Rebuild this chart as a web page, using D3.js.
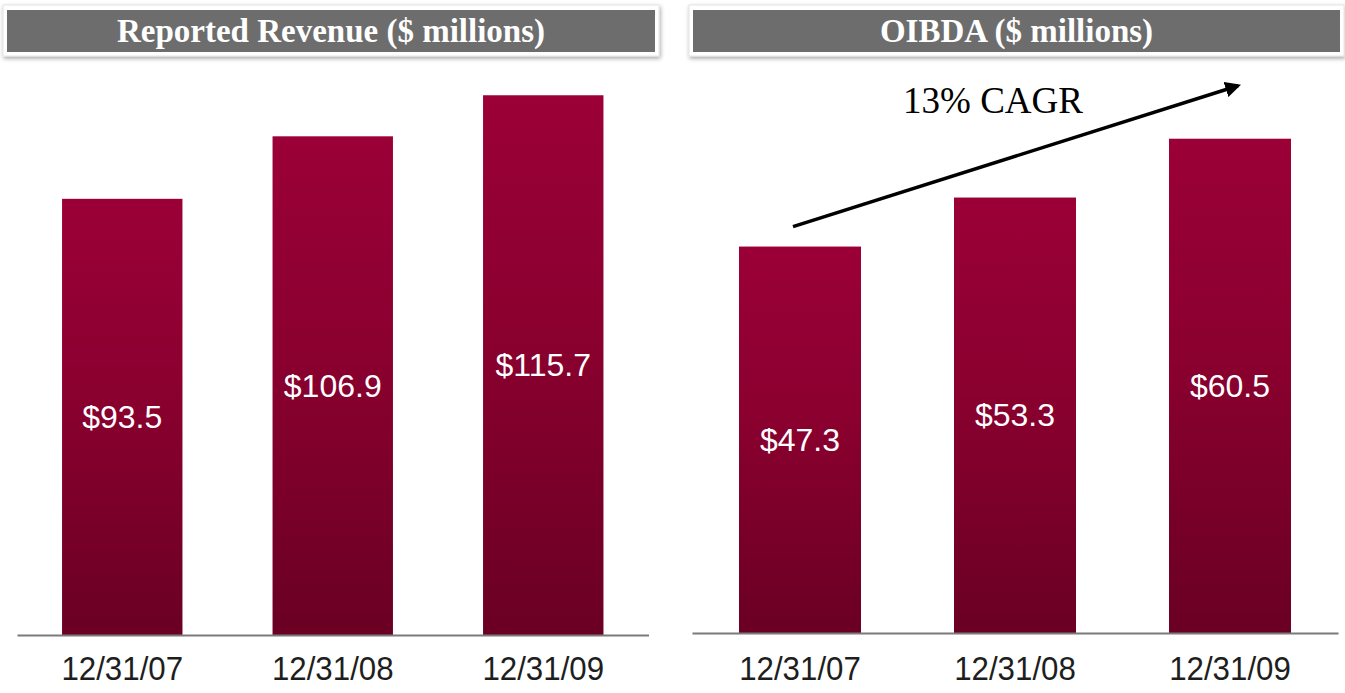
<!DOCTYPE html>
<html>
<head>
<meta charset="utf-8">
<script src="https://cdn.jsdelivr.net/npm/d3@7"></script>
<style>
html, body { margin: 0; padding: 0; background: #ffffff; }
svg { display: block; }
</style>
</head>
<body>
<svg id="chart" width="1345" height="693"></svg>
<script>
// ---- data ----
const categories = ["12/31/07", "12/31/08", "12/31/09"];
const revenueValues = [93.5, 106.9, 115.7];
const oibdaValues = [47.3, 53.3, 60.5];
const revenueLabels = ["$93.5", "$106.9", "$115.7"];
const oibdaLabels = ["$47.3", "$53.3", "$60.5"];
const panelTitles = ["Reported Revenue ($ millions)", "OIBDA ($ millions)"];
const cagrText = "13% CAGR";

const svg = d3.select("#chart");
const defs = svg.append("defs");

const grad = defs.append("linearGradient").attr("id", "barGrad")
  .attr("x1", 0).attr("y1", 0).attr("x2", 0).attr("y2", 1);
grad.append("stop").attr("offset", "0%").attr("stop-color", "#9b0037");
grad.append("stop").attr("offset", "45%").attr("stop-color", "#8a002f");
grad.append("stop").attr("offset", "100%").attr("stop-color", "#6a0023");

const shadow = defs.append("filter").attr("id", "shadow")
  .attr("x", "-5%").attr("y", "-30%").attr("width", "110%").attr("height", "170%");
shadow.append("feDropShadow").attr("dx", 1).attr("dy", 2).attr("stdDeviation", 2)
  .attr("flood-color", "#000").attr("flood-opacity", 0.35);

defs.append("marker").attr("id", "arrowHead")
  .attr("viewBox", "0 0 10 10").attr("refX", 8).attr("refY", 5)
  .attr("markerWidth", 4.5).attr("markerHeight", 4.5).attr("orient", "auto")
  .append("path").attr("d", "M0,0 L10,5 L0,10 Z").attr("fill", "#000");

function panel(cfg) {
  const g = svg.append("g");
  // title box
  g.append("rect").attr("x", cfg.boxX0 - 4).attr("y", 5)
    .attr("width", cfg.boxX1 - cfg.boxX0 + 8).attr("height", 51)
    .attr("fill", "#ffffff").attr("stroke", "#e4e4e4").attr("filter", "url(#shadow)");
  g.append("rect").attr("x", cfg.boxX0).attr("y", 10)
    .attr("width", cfg.boxX1 - cfg.boxX0).attr("height", 42)
    .attr("fill", "#6d6d6d");
  g.append("text").attr("x", (cfg.boxX0 + cfg.boxX1) / 2).attr("y", 31)
    .attr("text-anchor", "middle").attr("dominant-baseline", "central")
    .attr("font-family", "'Liberation Serif', 'Times New Roman', serif")
    .attr("font-weight", "bold").attr("font-size", 33).attr("fill", "#ffffff")
    .text(cfg.title);

  const x = d3.scaleBand().domain(categories).range(cfg.xRange)
    .paddingInner(cfg.pInner).paddingOuter(cfg.pOuter);
  const y = d3.scaleLinear().domain(cfg.yDomain).range([cfg.baseY, cfg.topY]);

  g.selectAll("rect.bar").data(cfg.values).join("rect").attr("class", "bar")
    .attr("x", (d, i) => x(categories[i]))
    .attr("y", d => y(d))
    .attr("width", x.bandwidth())
    .attr("height", d => y(0) - y(d))
    .attr("fill", "url(#barGrad)");

  g.selectAll("text.val").data(cfg.values).join("text").attr("class", "val")
    .attr("x", (d, i) => x(categories[i]) + x.bandwidth() / 2)
    .attr("y", d => (y(d) + y(0)) / 2)
    .attr("text-anchor", "middle").attr("dominant-baseline", "central")
    .attr("font-family", "'Liberation Sans', Arial, sans-serif")
    .attr("font-size", 32).attr("fill", "#ffffff")
    .text((d, i) => cfg.labels[i]);

  // baseline axis
  const axis = d3.axisBottom(x).tickSize(0).tickPadding(0);
  const ax = g.append("g").attr("transform", `translate(0,${cfg.baseY})`).call(axis);
  ax.select(".domain").attr("stroke", "#7a7a7a").attr("stroke-width", 2);
  ax.selectAll(".tick text")
    .attr("font-family", "'Liberation Sans', Arial, sans-serif")
    .attr("font-size", 34).attr("fill", "#1e1e1e")
    .attr("dy", null).attr("y", 0)
    .attr("transform", "translate(0," + cfg.labelOffset + ") scale(0.92,1)")
    .attr("dominant-baseline", "central");
  return { x, y, g };
}

const left = panel({
  title: panelTitles[0], boxX0: 7, boxX1: 655,
  values: revenueValues, labels: revenueLabels,
  xRange: [17, 648.5], pInner: 0.428, pOuter: 0.214,
  yDomain: [0, 120], baseY: 635, topY: 635 - 120 * 4.665, labelOffset: 33
});

const right = panel({
  title: panelTitles[1], boxX0: 693, boxX1: 1340,
  values: oibdaValues, labels: oibdaLabels,
  xRange: [692, 1338], pInner: 0.4326, pOuter: 0.2186,
  yDomain: [0, 67], baseY: 633, topY: 633 - 67 * 8.17, labelOffset: 35
});

// CAGR arrow anchored on first and last OIBDA bars
const rx = right.x, ry = right.y, bw = rx.bandwidth();
const ax0 = rx(categories[0]) + bw / 2 - 7;
const ay0 = ry(oibdaValues[0]) - 20;
const ax1 = rx(categories[2]) + bw / 2 + 8;
const ay1 = ry(oibdaValues[2]) - 53;
svg.append("line").attr("x1", ax0).attr("y1", ay0).attr("x2", ax1).attr("y2", ay1)
  .attr("stroke", "#000").attr("stroke-width", 3.5)
  .attr("marker-end", "url(#arrowHead)");
svg.append("text").attr("x", 993).attr("y", 100)
  .attr("text-anchor", "middle").attr("dominant-baseline", "central")
  .attr("font-family", "'Liberation Serif', 'Times New Roman', serif")
  .attr("font-size", 37).attr("fill", "#000")
  .text(cagrText);
</script>
</body>
</html>
